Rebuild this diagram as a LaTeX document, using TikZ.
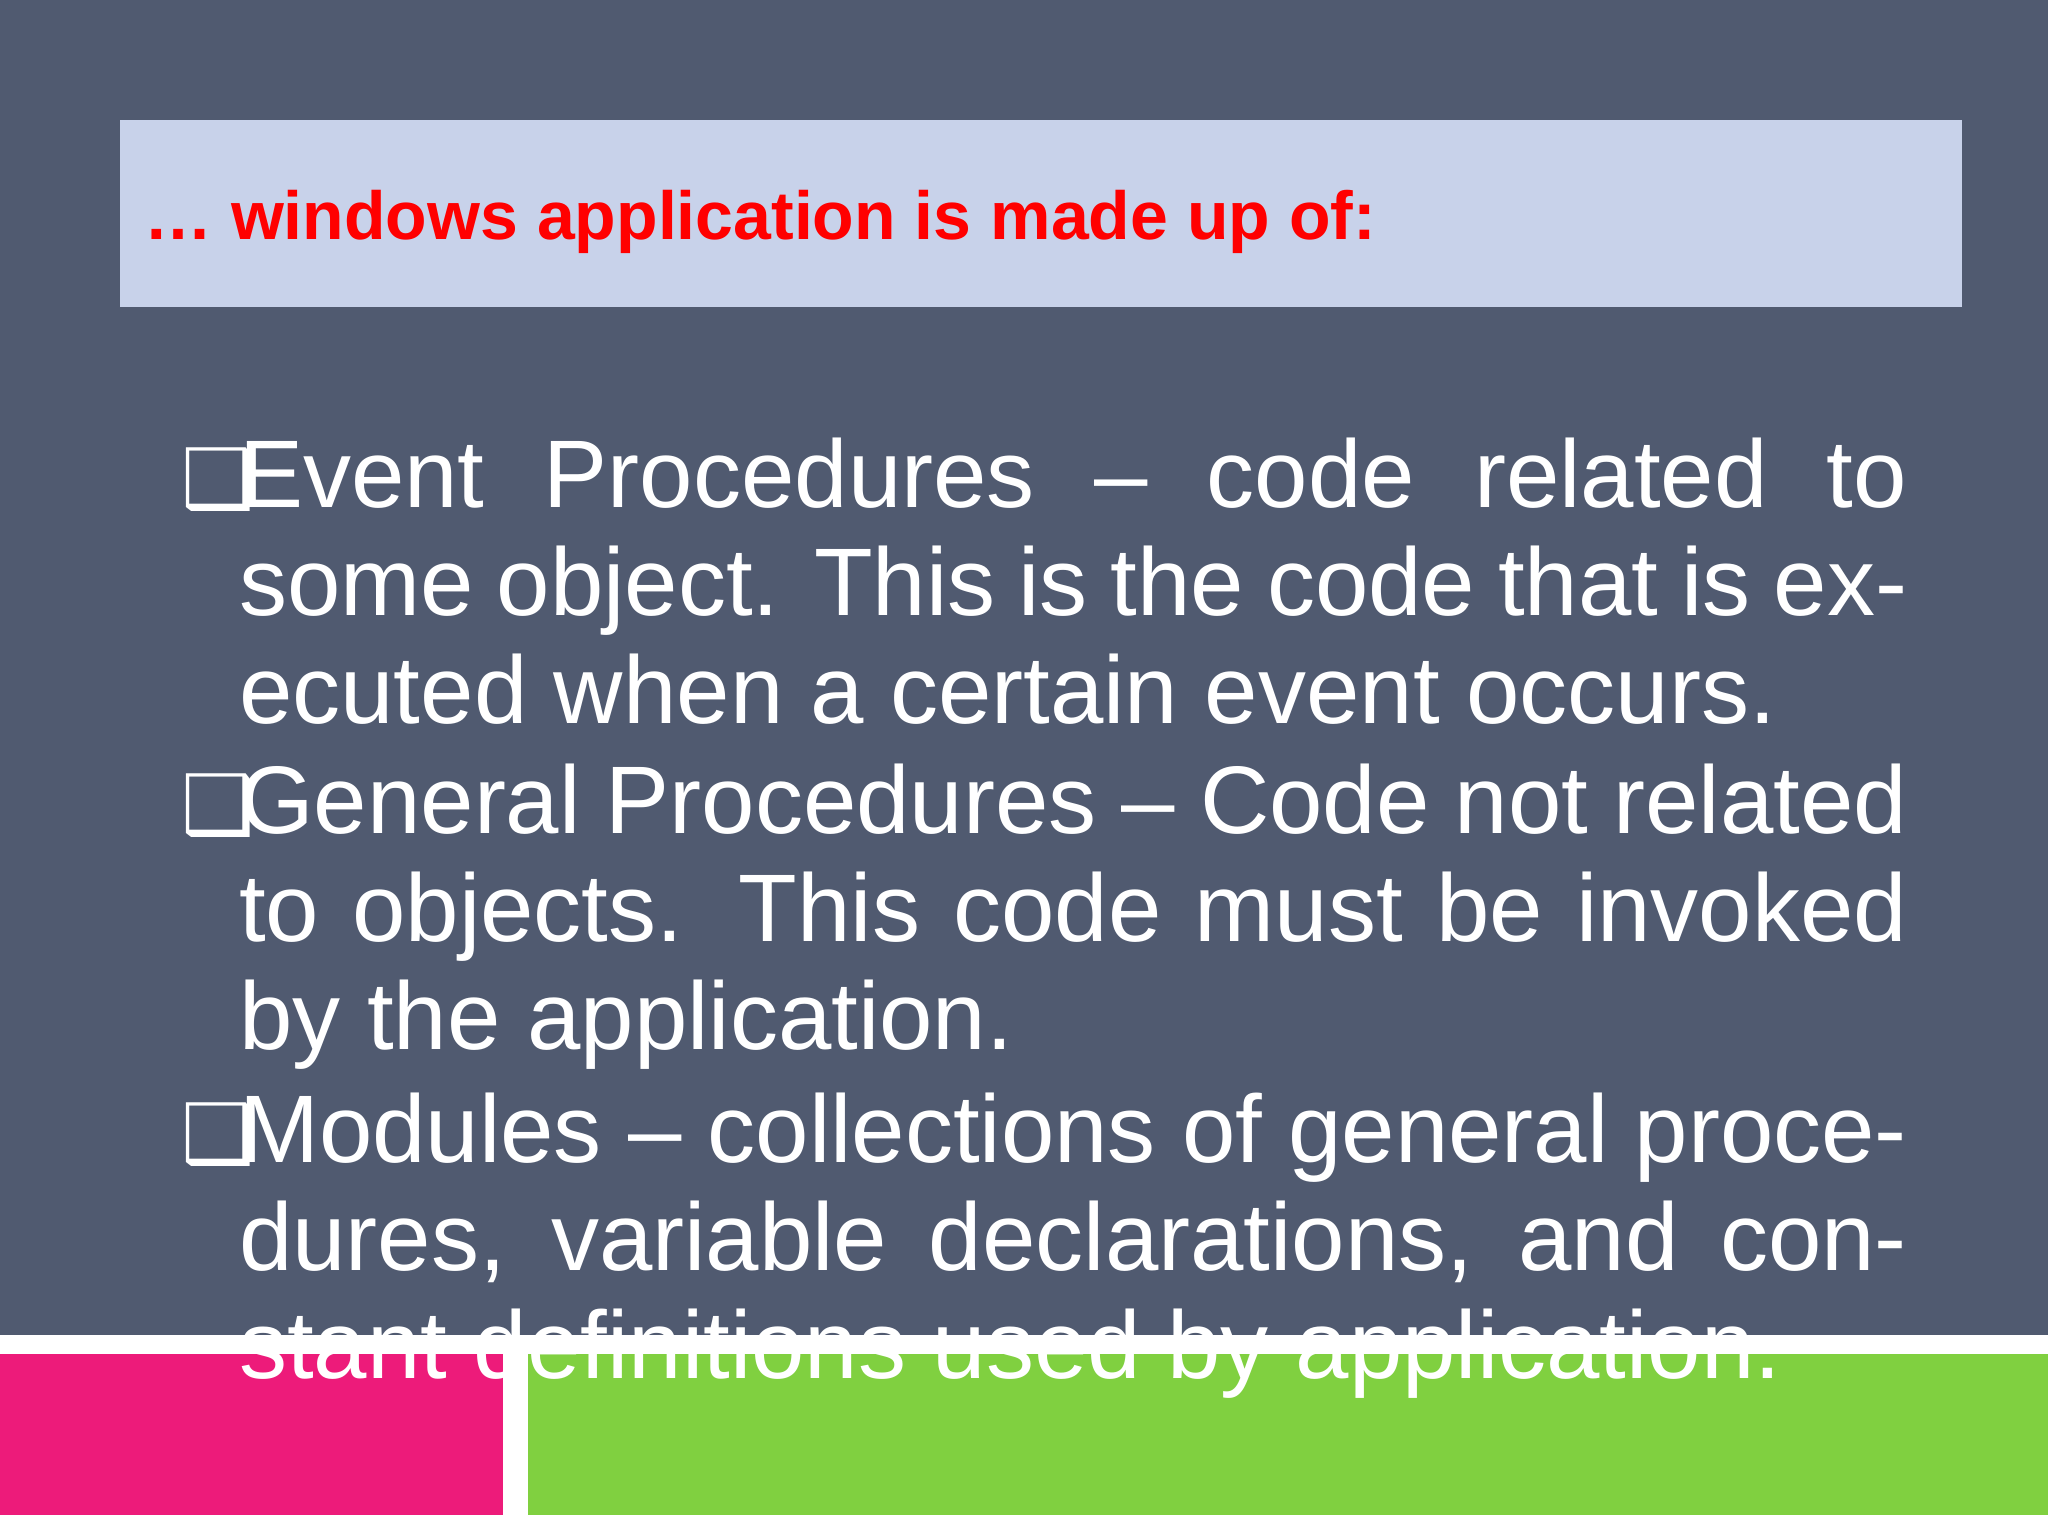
\documentclass[tikz,border=0pt]{standalone}
\usepackage{fontspec}
\setmainfont{Liberation Sans}
\newfontfamily\djvfont{DejaVu Sans}
\definecolor{bg}{HTML}{505A70}
\definecolor{tbox}{HTML}{C8D2EA}
\definecolor{pinkc}{HTML}{ED1B7A}
\definecolor{greenc}{HTML}{80D040}
\definecolor{redt}{HTML}{FF0000}
\tikzset{item/.style={anchor=base west,text width=1668pt,align=justify,inner sep=0pt,text=white,font=\fontsize{96}{108}\selectfont}}
\newcommand{\bx}{\hspace*{-58pt}\makebox[58pt][l]{\djvfont\bfseries\fontsize{82}{82}\selectfont ❑}}
\newcommand{\nohy}{\hyphenpenalty=10000\exhyphenpenalty=10000\relax}
\begin{document}
\begin{tikzpicture}[x=1pt,y=-1pt]
\useasboundingbox (0,0) rectangle (2048,1536);
\fill[bg] (0,0) rectangle (2048,1536);
\fill[tbox] (120,120) rectangle (1962,307);
\node[anchor=base west,inner sep=0pt,text=redt,font=\bfseries\fontsize{68}{80}\selectfont] (title) at (144,239) {… windows application is made up of:};
\fill[white] (0,1335) rectangle (2048,1536);
\fill[pinkc] (0,1354) rectangle (503,1515);
\fill[greenc] (528,1354) rectangle (2048,1515);
\node[item] (i1) at (239,507) {\nohy\bx Event Procedures – code related to some object. This is the code that is executed when a certain event occurs.};
\node[item] (i2) at (239,833) {\nohy\bx General Procedures – Code not related to objects. This code must be invoked by the application.};
\node[item] (i3) at (239,1162) {\nohy\bx Modules – collections of general procedures, variable declarations, and constant definitions used by application.};
\end{tikzpicture}
\end{document}
